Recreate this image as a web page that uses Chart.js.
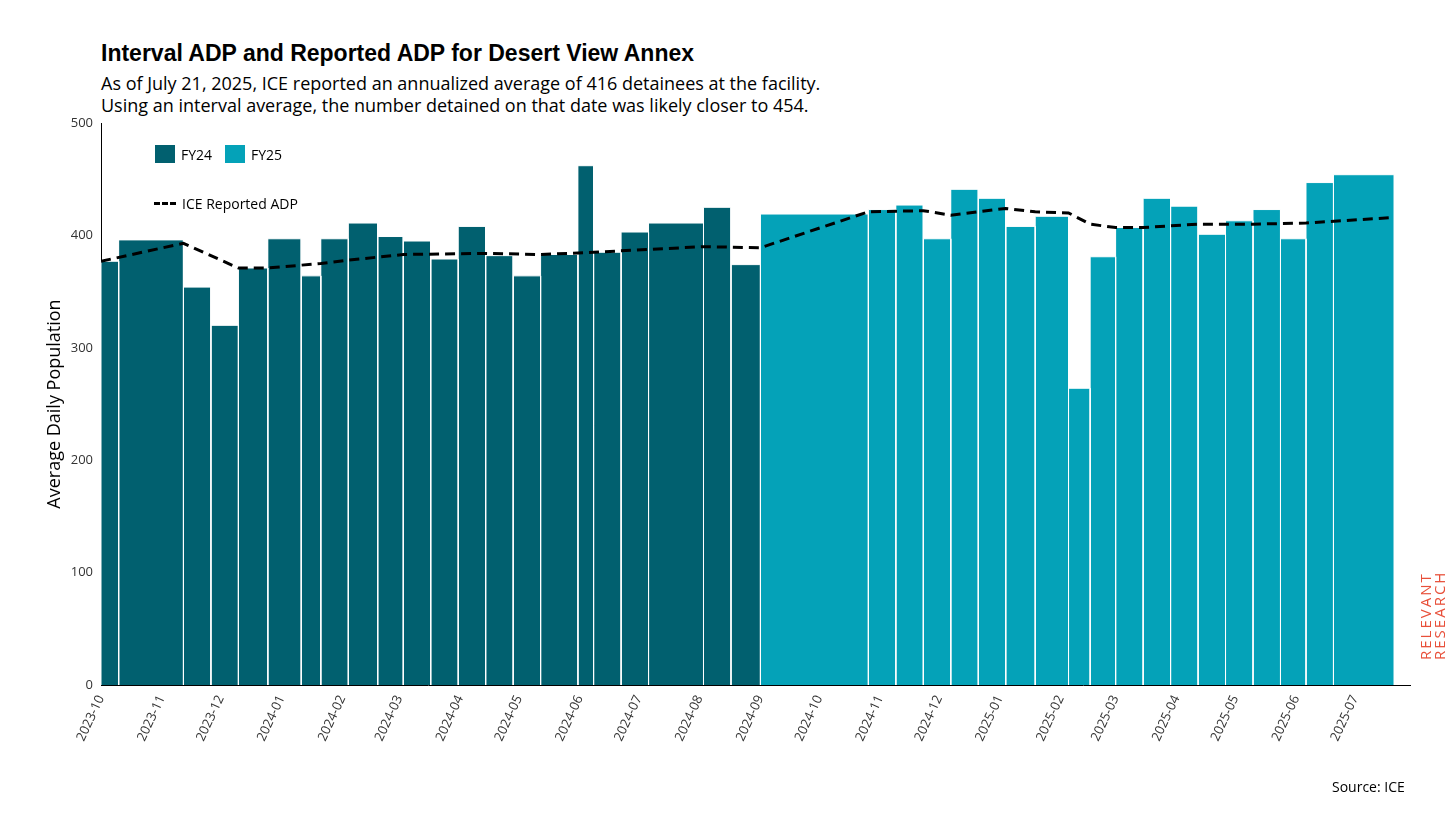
<!DOCTYPE html>
<html><head><meta charset="utf-8">
<script src="https://cdn.jsdelivr.net/npm/chart.js@4"></script>
<style>
body{margin:0;width:1456px;height:819px;background:#fff;position:relative;font-family:"Open Sans","Noto Sans",sans-serif;overflow:hidden}
#title{position:absolute;left:101px;top:40px;font:bold 23px "Liberation Sans",Arial,sans-serif;color:#000}
#sub{position:absolute;left:101px;top:72px;font-size:18px;line-height:22px;color:#000}
#wrap{position:absolute;left:40px;top:110px;width:1390px;height:680px}
.leg{position:absolute;font-size:14px;color:#000}
.sq{position:absolute;width:20px;height:18px}
#src{position:absolute;left:1332px;top:777px;font-size:14px}
#logo{position:absolute;left:1418px;top:660px;transform:rotate(-90deg);transform-origin:0 0;color:#e8503a;font-size:15px;line-height:14px;letter-spacing:2px}
</style></head><body>
<div id="title">Interval ADP and Reported ADP for Desert View Annex</div>
<div id="sub">As of July 21, 2025, ICE reported an annualized average of 416 detainees at the facility.<br>Using an interval average, the number detained on that date was likely closer to 454.</div>
<div id="wrap"><canvas id="c"></canvas></div>
<div class="sq" style="left:155px;top:145px;background:#01606f"></div>
<div class="leg" style="left:181px;top:145px">FY24</div>
<div class="sq" style="left:225px;top:145px;background:#04a2b8"></div>
<div class="leg" style="left:251px;top:145px">FY25</div>
<div style="position:absolute;left:154px;top:202px;width:22px;border-top:3px dashed #000"></div>
<div class="leg" style="left:182px;top:194px">ICE Reported ADP</div>
<div id="src">Source: ICE</div>
<div id="logo">RELEVANT<br>RESEARCH</div>
<script>
// interval boundaries (start of each interval, last entry is the end)
const intervalBounds = ['2023-10-01','2023-10-10','2023-11-12','2023-11-26','2023-12-10','2023-12-25','2024-01-11','2024-01-21','2024-02-04','2024-02-19','2024-03-03','2024-03-17','2024-03-31','2024-04-14','2024-04-28','2024-05-12','2024-05-31','2024-06-08','2024-06-22','2024-07-06','2024-08-03','2024-08-17','2024-09-01','2024-10-26','2024-11-09','2024-11-23','2024-12-07','2024-12-21','2025-01-04','2025-01-19','2025-02-05','2025-02-16','2025-03-01','2025-03-15','2025-03-29','2025-04-12','2025-04-26','2025-05-10','2025-05-24','2025-06-06','2025-06-20','2025-07-21'];
const intervalADP = [377,396,354,320,371,397,364,397,411,399,395,379,408,382,364,383,462,385,403,411,425,374,
  419,423,427,397,441,433,408,417,264,381,407,433,426,401,413,423,397,447,454];
const fy24Count = 22;
const reportedDates = ['2023-10-01','2023-11-12','2023-12-10','2023-12-25','2024-01-21','2024-02-04','2024-03-03','2024-04-14','2024-05-12','2024-06-08','2024-08-03','2024-09-01','2024-10-26','2024-11-23','2024-12-07','2025-01-04','2025-01-19','2025-02-05','2025-02-16','2025-03-01','2025-03-15','2025-04-12','2025-05-10','2025-06-06','2025-07-21'];
const reportedADP = [377,393,371,371,375,378,383,384,383,385,390,389,421,422,418,424,421,420,410,407,407,410,410,411,416];
const monthTicks = ['2023-10','2023-11','2023-12','2024-01','2024-02','2024-03','2024-04','2024-05','2024-06','2024-07','2024-08','2024-09','2024-10','2024-11','2024-12','2025-01','2025-02','2025-03','2025-04','2025-05','2025-06','2025-07'];

const day0 = Date.UTC(2023, 9, 1);
const toDay = s => { const p = s.split('-').map(Number); return (Date.UTC(p[0], p[1]-1, p[2] || 1) - day0) / 86400000; };
const tickDays = monthTicks.map(m => toDay(m));

const datasets = intervalADP.map((v, i) => {
  const a = toDay(intervalBounds[i]), b = toDay(intervalBounds[i+1]);
  const col = i < fy24Count ? '#01606f' : '#04a2b8';
  return {
    data: [{x:a,y:0},{x:a,y:v},{x:b,y:v},{x:b,y:0}],
    borderColor: '#fff', borderWidth: 1, backgroundColor: col,
    fill: 'origin', pointRadius: 0, tension: 0, order: 2
  };
});
datasets.push({
  data: reportedDates.map((d, i) => ({x: toDay(d), y: reportedADP[i]})),
  borderColor: '#000', borderWidth: 3, borderDash: [10, 6], fill: false,
  pointRadius: 0, tension: 0, order: 1
});

new Chart(document.getElementById('c'), {
  type: 'line',
  data: { datasets },
  options: {
    responsive: true, maintainAspectRatio: false, animation: false,
    layout: { padding: { top: 13, right: 20 } },
    plugins: { legend: { display: false }, tooltip: { enabled: false } },
    scales: {
      x: {
        type: 'linear', min: 0, max: 667,
        afterBuildTicks: s => { s.ticks = tickDays.map(v => ({value: v})); },
        afterFit: s => { s.height = 105; },
        grid: { display: false, drawTicks: true, tickLength: 5, color: '#000' },
        border: { color: '#000', width: 1 },
        ticks: { autoSkip: false, minRotation: 65, maxRotation: 65, color: '#333', font: { size: 13, family: 'Open Sans' },
          callback: v => monthTicks[tickDays.indexOf(v)] }
      },
      y: {
        min: 0, max: 500,
        afterFit: s => { s.width = 61; },
        grid: { display: false, tickLength: 5 },
        border: { color: '#000', width: 1 },
        ticks: { stepSize: 100, color: '#333', font: { size: 13, family: 'Open Sans' } },
        title: { display: true, text: 'Average Daily Population', color: '#000', font: { size: 18, family: 'Open Sans' } }
      }
    }
  }
});
</script>
</body></html>
